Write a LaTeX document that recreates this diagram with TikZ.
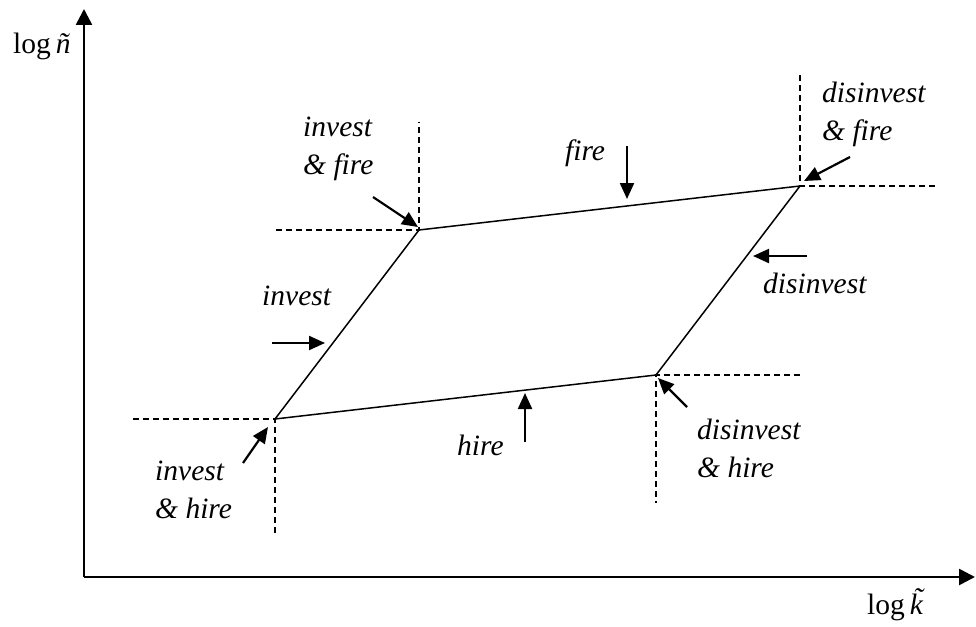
\documentclass[tikz,border=0pt]{standalone}
\usepackage{fontspec}
\setmainfont{LiberationSerif}[Extension=.ttf,UprightFont=*-Regular,ItalicFont=*-Italic,BoldFont=*-Bold]
\usetikzlibrary{arrows.meta}
\begin{document}
\begin{tikzpicture}[x=1pt,y=-1pt,
  axis/.style={line width=2.6pt,-{Triangle[length=16pt,width=16pt]}},
  edge/.style={line width=1.5pt,line join=miter},
  guide/.style={line width=1.6pt,dash pattern=on 6pt off 4pt},
  push/.style={line width=2.2pt,-{Triangle[length=16pt,width=14pt]}},
  lbl/.style={font=\fontsize{29.5}{38}\selectfont\itshape,inner sep=0pt,anchor=base west,align=left},
  axlbl/.style={font=\fontsize{29.5}{36}\selectfont,inner sep=0pt,anchor=base west}]
\useasboundingbox (0,0) rectangle (976,626);

% axes
\coordinate (O) at (84,577);
\coordinate (ytip) at (84,9);
\coordinate (xtip) at (975,577);
\draw[axis] (O) -- (ytip);
\draw[axis] (O) -- (xtip);
\node[axlbl] (ylab) at (13,53) {log\,{\itshape ñ}};
\node[axlbl] (xlab) at (867,614) {log\,{\itshape\accent"02DC k}};

% corners of the inaction region
\coordinate (BL) at (275,419);
\coordinate (TL) at (419,230);
\coordinate (TR) at (800,186);
\coordinate (BR) at (656,375);

% dashed guides through the corners
\coordinate (blw) at (133,419);
\coordinate (bls) at (275,535);
\coordinate (tlw) at (276,230);
\coordinate (tln) at (419,122);
\coordinate (trn) at (801,76);
\coordinate (tre) at (938,186);
\coordinate (bre) at (800,375);
\coordinate (brs) at (656,503);
\draw[guide] (blw) -- (BL) -- (bls);
\draw[guide] (tlw) -- (TL) -- (tln);
\draw[guide] (trn) -- (TR |- trn) -- (TR) -- (tre);
\draw[guide] (bre) -- (BR) -- (brs);

% region boundary
\draw[edge] (BL) -- (TL) -- (TR) -- (BR) -- cycle;

% adjustment arrows
\coordinate (fireA) at (627,146);  \coordinate (fireB) at (627,199);
\coordinate (hireA) at (525,442);  \coordinate (hireB) at (525,393);
\coordinate (invA) at (272,343);   \coordinate (invB) at (325,343);
\coordinate (disA) at (807,256);   \coordinate (disB) at (753,256);
\coordinate (ifA) at (373,197);    \coordinate (ifB) at (418,227);
\coordinate (dfA) at (850,157);    \coordinate (dfB) at (804,181);
\coordinate (ihA) at (243,463);    \coordinate (ihB) at (268,427);
\coordinate (dhA) at (687,407);    \coordinate (dhB) at (658,378);
\draw[push] (fireA) -- (fireB);
\draw[push] (hireA) -- (hireB);
\draw[push] (invA) -- (invB);
\draw[push] (disA) -- (disB);
\draw[push] (ifA) -- (ifB);
\draw[push] (dfA) -- (dfB);
\draw[push] (ihA) -- (ihB);
\draw[push] (dhA) -- (dhB);

% labels (anchored at the baseline of their last line)
\node[lbl] (lif) at (303,174) {invest\\\& fire};
\node[lbl] (lfire) at (565,160) {fire};
\node[lbl] (ldf) at (822,140) {disinvest\\\& fire};
\node[lbl] (linv) at (262,305) {invest};
\node[lbl] (ldis) at (763,293) {disinvest};
\node[lbl] (lhire) at (457,455) {hire};
\node[lbl] (lih) at (155,518) {invest\\\& hire};
\node[lbl] (ldh) at (697,477) {disinvest\\\& hire};
\end{tikzpicture}
\end{document}
